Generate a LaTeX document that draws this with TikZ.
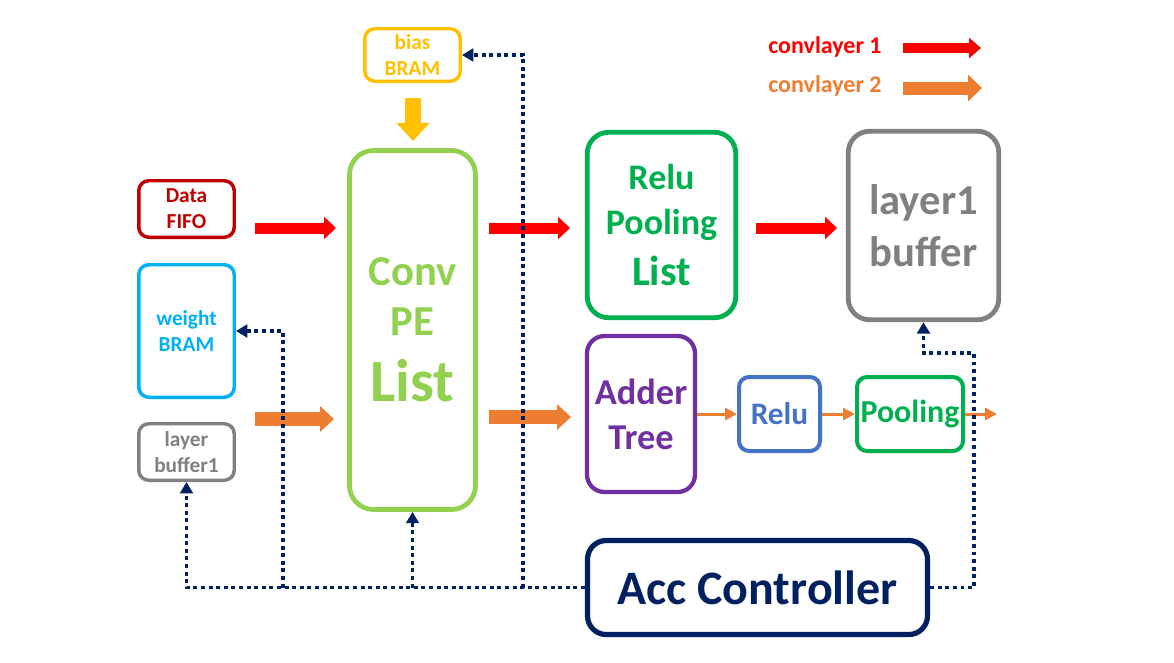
\documentclass[tikz,border=0pt]{standalone}
\usepackage{fontspec}
\setmainfont{Carlito}
\usetikzlibrary{arrows.meta}
\definecolor{cbias}{HTML}{FFC000}
\definecolor{cdata}{HTML}{C00000}
\definecolor{cweight}{HTML}{00B0F0}
\definecolor{cgrey}{HTML}{808080}
\definecolor{cconv}{HTML}{92D050}
\definecolor{cgreen}{HTML}{00B050}
\definecolor{cadder}{HTML}{7030A0}
\definecolor{crelu}{HTML}{4472C4}
\definecolor{cnavy}{HTML}{002060}
\definecolor{cred}{HTML}{FF0000}
\definecolor{corange}{HTML}{ED7D31}
\tikzset{
  box/.style={draw, inner sep=0pt, align=center, font=\bfseries},
  smallbox/.style={box, line width=2.6pt, rounded corners=7.5pt, minimum width=71.6pt},
  bigbox/.style={box, line width=3.6pt, rounded corners=16pt},
  ctrl/.style={draw=cnavy, line width=2.9pt, dash pattern=on 2.9pt off 2.8pt, -{Triangle[width=9.5pt,length=8.5pt]}},
  redarrow/.style={draw=cred, line width=8.25pt, -{Triangle[width=16.5pt,length=9pt]}},
  orangearrow/.style={draw=corange, line width=10.5pt, -{Triangle[width=18.75pt,length=10.5pt]}},
  thinarrow/.style={draw=corange, line width=2.25pt, -{Triangle[width=9pt,length=9pt]}},
}
\begin{document}
\begin{tikzpicture}[x=0.75pt,y=-0.75pt]
\useasboundingbox (0,0) rectangle (1174,662);

% small boxes
\node[smallbox, draw=cbias, text=cbias, minimum height=39.4pt, font=\bfseries\fontsize{16}{19.5}\selectfont] (bias) at (412.5,55) {bias\\BRAM};
\node[smallbox, draw=cdata, text=cdata, minimum height=42.4pt, font=\bfseries\fontsize{16}{19.5}\selectfont] (datafifo) at (186.5,209) {Data\\FIFO};
\node[smallbox, draw=cweight, text=cweight, minimum height=99.4pt, font=\bfseries\fontsize{16}{19.5}\selectfont] (weight) at (186.5,331) {weight\\BRAM};
\node[smallbox, draw=cgrey, text=cgrey, minimum height=42.4pt, font=\bfseries\fontsize{16}{19.5}\selectfont] (lbuf1) at (186.5,452) {layer\\buffer1};

% big boxes
\node[bigbox, draw=cconv, text=cconv, rounded corners=18pt, minimum width=94.5pt, minimum height=269.25pt, font=\bfseries\fontsize{32}{37.5}\selectfont] (conv) at (412.5,330) {Conv\\PE\\[12pt]{\fontsize{45}{45}\selectfont List}};
\node[bigbox, draw=cgreen, text=cgreen, minimum width=111.4pt, minimum height=139.1pt, font=\bfseries\fontsize{27}{33.75}\selectfont] (rpl) at (661.5,225) {Relu\\Pooling\\[4.5pt]{\fontsize{31.5}{31.5}\selectfont List}};
\node[bigbox, draw=cgrey, text=cgrey, minimum width=112.9pt, minimum height=141.4pt, font=\bfseries\fontsize{32}{39}\selectfont] (l1buf) at (923.5,225.5) {layer1\\buffer};
\node[bigbox, draw=cadder, text=cadder, line width=3.2pt, rounded corners=13pt, minimum width=81pt, minimum height=117pt, font=\bfseries\fontsize{27.3}{33.75}\selectfont] (adder) at (641,414) {Adder\\Tree};
\node[box, draw=crelu, text=crelu, line width=3pt, rounded corners=7.5pt, minimum width=60.75pt, minimum height=55.5pt, font=\bfseries\fontsize{23.5}{26}\selectfont] (relu) at (779.5,414) {Relu};
\node[box, draw=cgreen, text=cgreen, line width=3pt, rounded corners=7.5pt, minimum width=79.5pt, minimum height=55.5pt, font=\bfseries\fontsize{24}{26}\selectfont] (pool) at (910,414) {Pooling};
\node[box, draw=cnavy, text=cnavy, line width=3.9pt, rounded corners=14pt, minimum width=255pt, minimum height=70.5pt, font=\bfseries\fontsize{36}{40}\selectfont] (acc) at (757.5,587.5) {Acc Controller};

% legend
\node[anchor=base west, inner sep=0pt, text=cred, font=\bfseries\fontsize{18}{20}\selectfont] (leg1) at (768,53) {convlayer 1};
\node[anchor=base west, inner sep=0pt, text=corange, font=\bfseries\fontsize{18}{20}\selectfont] (leg2) at (768,92) {convlayer 2};
\coordinate (l1a) at (903,48); \coordinate (l1b) at (981,48);
\coordinate (l2a) at (903,88); \coordinate (l2b) at (982,88);
\draw[draw=cred, line width=7.5pt, -{Triangle[width=15pt,length=9pt]}] (l1a) -- (l1b);
\draw[draw=corange, line width=9.75pt, -{Triangle[width=19.5pt,length=10.5pt]}] (l2a) -- (l2b);

% block arrows
\coordinate (r1a) at (255,228); \coordinate (r1b) at (336,228);
\coordinate (r2a) at (489,228); \coordinate (r2b) at (570,228);
\coordinate (r3a) at (756,228); \coordinate (r3b) at (837,228);
\coordinate (o1a) at (255,419); \coordinate (o1b) at (334,419);
\coordinate (o2a) at (489,417); \coordinate (o2b) at (571,417);
\coordinate (ya) at (413,98); \coordinate (yb) at (413,141);
\draw[redarrow] (r1a) -- (r1b);
\draw[redarrow] (r2a) -- (r2b);
\draw[redarrow] (r3a) -- (r3b);
\draw[orangearrow] (o1a) -- (o1b);
\draw[orangearrow] (o2a) -- (o2b);
\draw[draw=cbias, line width=12pt, -{Triangle[width=24pt,length=13.5pt]}] (ya) -- (yb);

% thin orange arrows
\coordinate (outp) at (997,414);
\draw[thinarrow] (adder.east) -- (relu.west);
\draw[thinarrow] (relu.east) -- (pool.west);
\draw[thinarrow] (pool.east) -- (outp);

% control lines
\coordinate (j1) at (283,587.5);
\coordinate (j2) at (412.5,587.5);
\coordinate (j3) at (523,587.5);
\coordinate (rr) at (974,353);
\draw[ctrl] (acc.west) -| (lbuf1.south);
\draw[ctrl] (j1) |- (weight.east);
\draw[ctrl] (j2) -- (conv.south);
\draw[ctrl] (j3) |- (bias.east);
\draw[ctrl] (acc.east) -| (rr) -| (l1buf.south);
\end{tikzpicture}
\end{document}
